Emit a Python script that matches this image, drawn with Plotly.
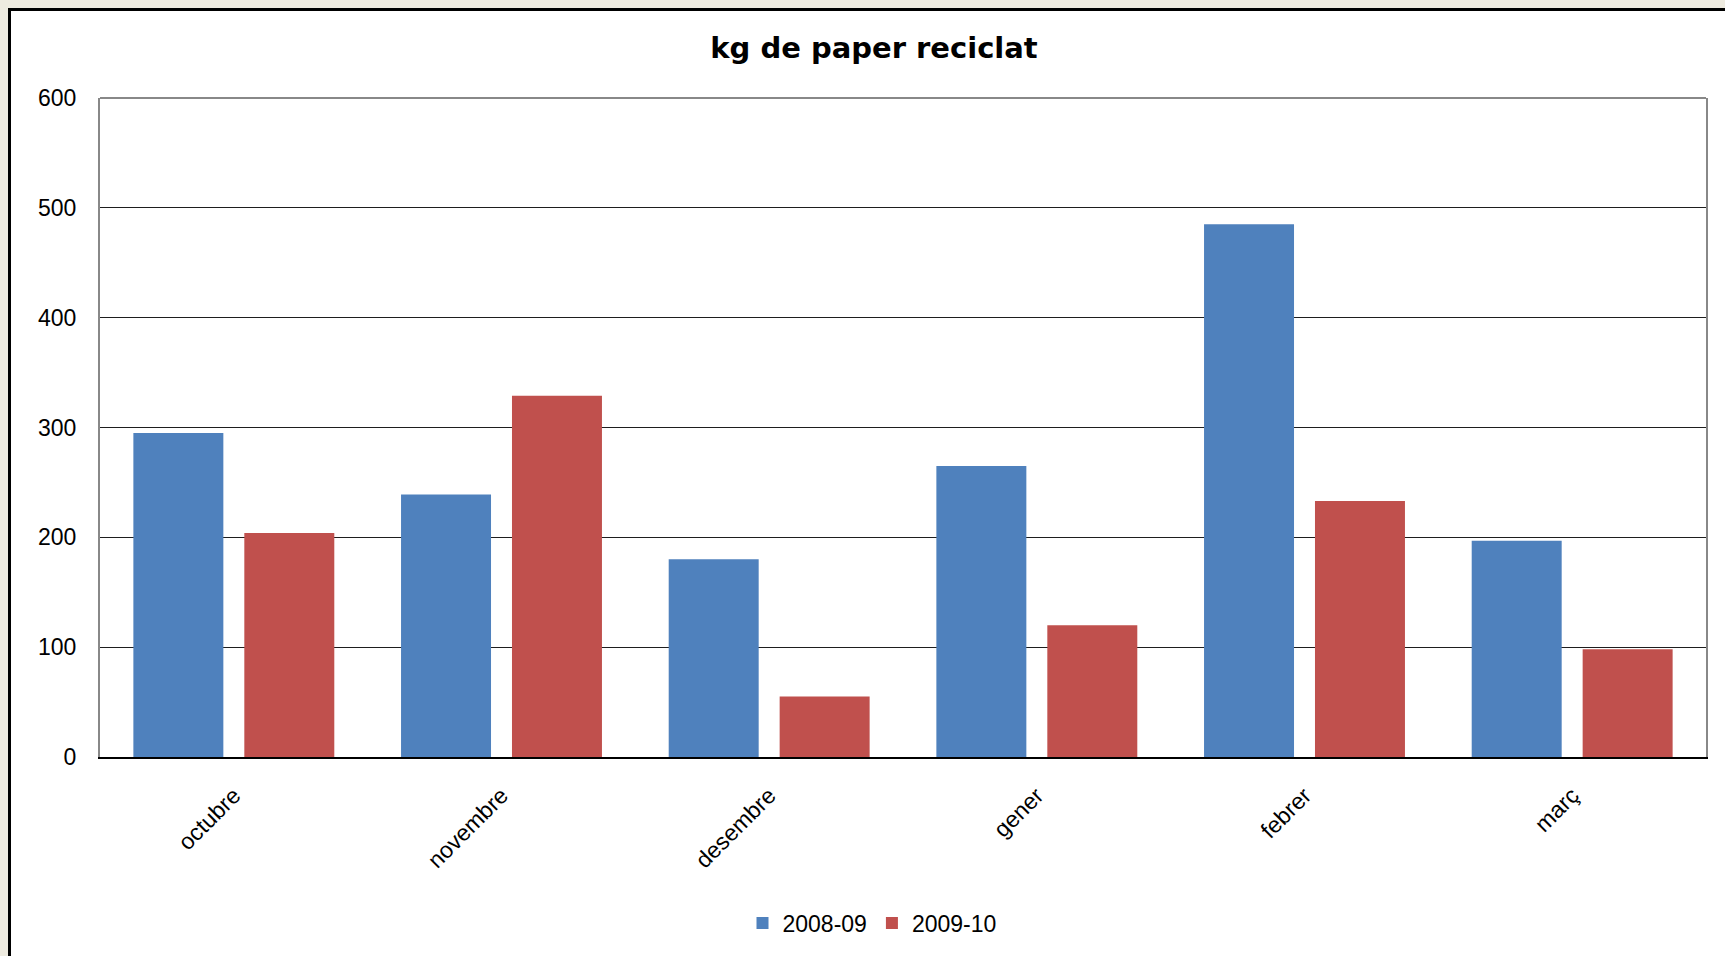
import plotly.graph_objects as go

months = ["octubre", "novembre", "desembre", "gener", "febrer", "març"]
series_names = ["2008-09", "2009-10"]
values_0809 = [295, 239, 180, 265, 485, 197]
values_0910 = [204, 329, 55, 120, 233, 98]
colors = ["#4F81BD", "#C0504D"]
y_ticks = [0, 100, 200, 300, 400, 500, 600]

W, H = 1725, 956
ml, mr, mt, mb = 100, 19, 98, 199
pw, ph = W - ml - mr, H - mt - mb

fig = go.Figure()
for name, vals, col in zip(series_names, [values_0809, values_0910], colors):
    fig.add_trace(go.Bar(x=months, y=vals, name=name, marker=dict(color=col, line=dict(width=0))))

font_main = "Liberation Sans, Arial, sans-serif"

# frame
fx0 = (9.5 - ml) / pw
fy1 = (H - mb - 9.5) / ph
fig.add_shape(type="rect", xref="paper", yref="paper", x0=fx0, x1=1.3, y0=-0.8, y1=fy1,
              fillcolor="white", line=dict(color="black", width=3), layer="below")
# top plot border
fig.add_shape(type="line", xref="paper", yref="paper", x0=0, x1=1, y0=1, y1=1,
              line=dict(color="#888888", width=2))

fig.update_layout(
    width=W, height=H,
    margin=dict(l=ml, r=mr, t=mt, b=mb),
    paper_bgcolor="#EEEBE0",
    plot_bgcolor="rgba(0,0,0,0)",
    barmode="group",
    bargap=0.171,
    bargroupgap=0.189,
    title=dict(text="<b>kg de paper reciclat</b>", x=874 / W, xanchor="center",
               y=1 - 48 / H, yanchor="middle",
               font=dict(family="DejaVu Sans, Verdana, sans-serif", size=29, color="black")),
    legend=dict(orientation="h", x=(872 - ml) / pw, xanchor="center",
                y=(H - mb - 923) / ph, yanchor="middle",
                font=dict(family=font_main, size=23, color="black"),
                itemwidth=30, bgcolor="rgba(0,0,0,0)"),
    xaxis=dict(tickangle=-45, tickfont=dict(family=font_main, size=23, color="black"),
               showline=True, linecolor="black", linewidth=2, showgrid=False,
               ticks="", ticklabelstandoff=14),
    yaxis=dict(range=[0, 600], tickvals=y_ticks, tickfont=dict(family=font_main, size=23, color="black"),
               showgrid=True, gridcolor="#1e1e1e", gridwidth=1,
               showline=True, linecolor="#888888", linewidth=2, mirror=True,
               zeroline=False, ticks="", ticklabelstandoff=17),
    showlegend=True,
)
fig.write_html("out.html", config={"displayModeBar": False},
               post_script="document.body.style.margin='0';document.body.style.background='#EEEBE0';document.body.style.overflow='hidden';")
